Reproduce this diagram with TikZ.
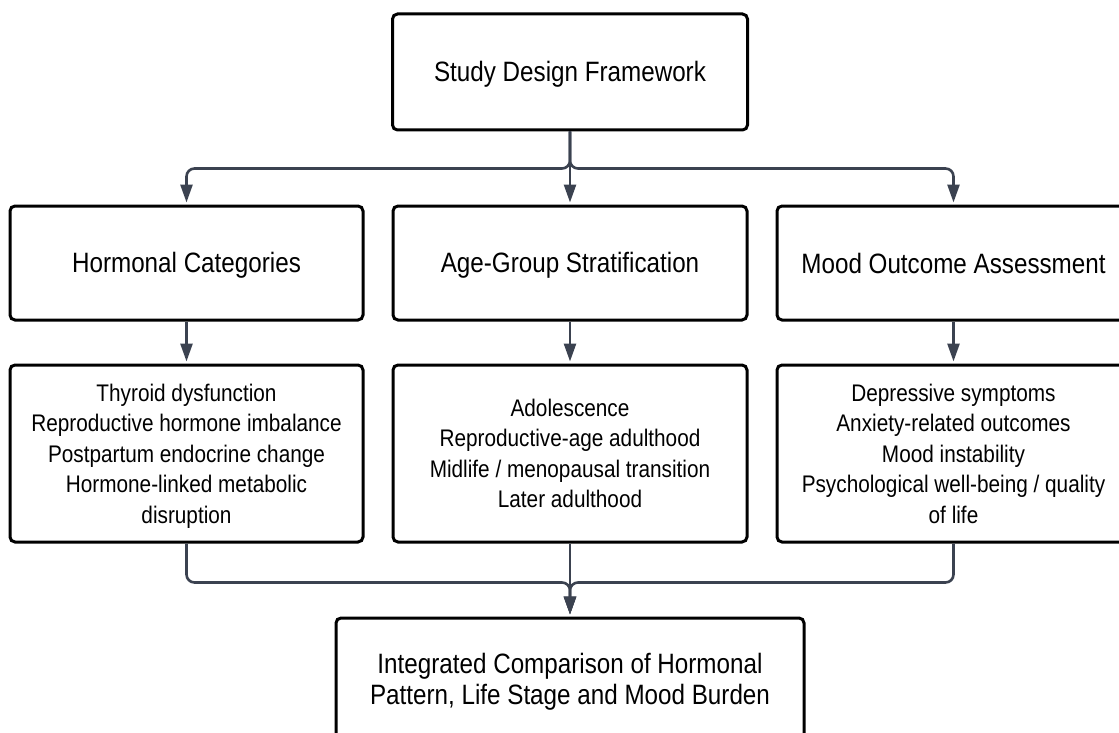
\documentclass[tikz,border=0pt]{standalone}
\usepackage{fontspec}
\setmainfont{Liberation Sans}[FakeStretch=0.865]
\usetikzlibrary{arrows.meta}
\definecolor{connclr}{HTML}{3B4250}
\newcommand{\hs}{\rule[-5pt]{0pt}{30pt}}
\newcommand{\ls}{\rule[-4.8pt]{0pt}{26.8pt}}
\tikzset{
  box/.style={draw=black, line width=3pt, rounded corners=5pt, fill=white,
    align=center, inner sep=0pt, font=\fontsize{28}{31}\selectfont},
  listbox/.style={box, font=\fontsize{24}{30.5}\selectfont},
  conn/.style={draw=connclr, line width=2.6pt, rounded corners=8pt,
    -{Triangle[length=18pt,width=12pt]}, shorten >=2pt},
}
\begin{document}
\begin{tikzpicture}[x=1pt,y=-1pt]
\clip (0,0) rectangle (1119,733);
\fill[white] (0,0) rectangle (1119,733);
% top
\node[box, minimum width=355pt, minimum height=116pt] (top) at (570,72) {\hs Study Design Framework};
% row 2
\node[box, minimum width=353pt, minimum height=114pt] (hc) at (186.5,263) {\hs Hormonal Categories};
\node[box, minimum width=354pt, minimum height=114pt] (ag) at (570,263) {\hs Age-Group Stratification};
\node[box, minimum width=353pt, minimum height=114pt] (mo) at (953.5,263) {\hs Mood Outcome Assessment};
% row 3
\node[listbox, minimum width=353pt, minimum height=177pt] (hl) at (186.5,453.5) {\ls Thyroid dysfunction\\Reproductive hormone imbalance\\Postpartum endocrine change\\Hormone-linked metabolic\\\ls disruption};
\node[listbox, minimum width=354pt, minimum height=177pt] (al) at (570,453.5) {\ls Adolescence\\Reproductive-age adulthood\\Midlife / menopausal transition\\\ls Later adulthood};
\node[listbox, minimum width=353pt, minimum height=177pt] (ml) at (953.5,453.5) {\ls Depressive symptoms\\Anxiety-related outcomes\\Mood instability\\Psychological well-being / quality\\\ls of life};
% bottom
\node[box, minimum width=468pt, minimum height=122pt] (fin) at (570,679) {\hs Integrated Comparison of Hormonal\\\hs Pattern, Life Stage and Mood Burden};
% connectors top
\draw[conn] (top.south) -- ++(0,37) -| (hc.north);
\draw[conn] (top.south) -- ++(0,37) -| (mo.north);
\draw[conn] (top.south) -- (ag.north);
% row2 to row3
\draw[conn] (hc.south) -- (hl.north);
\draw[conn] (ag.south) -- (al.north);
\draw[conn] (mo.south) -- (ml.north);
% bottom connectors
\draw[conn] (hl.south) -- ++(0,39) -| (fin.north);
\draw[conn] (ml.south) -- ++(0,39) -| (fin.north);
\draw[conn] (al.south) -- (fin.north);
\end{tikzpicture}
\end{document}
